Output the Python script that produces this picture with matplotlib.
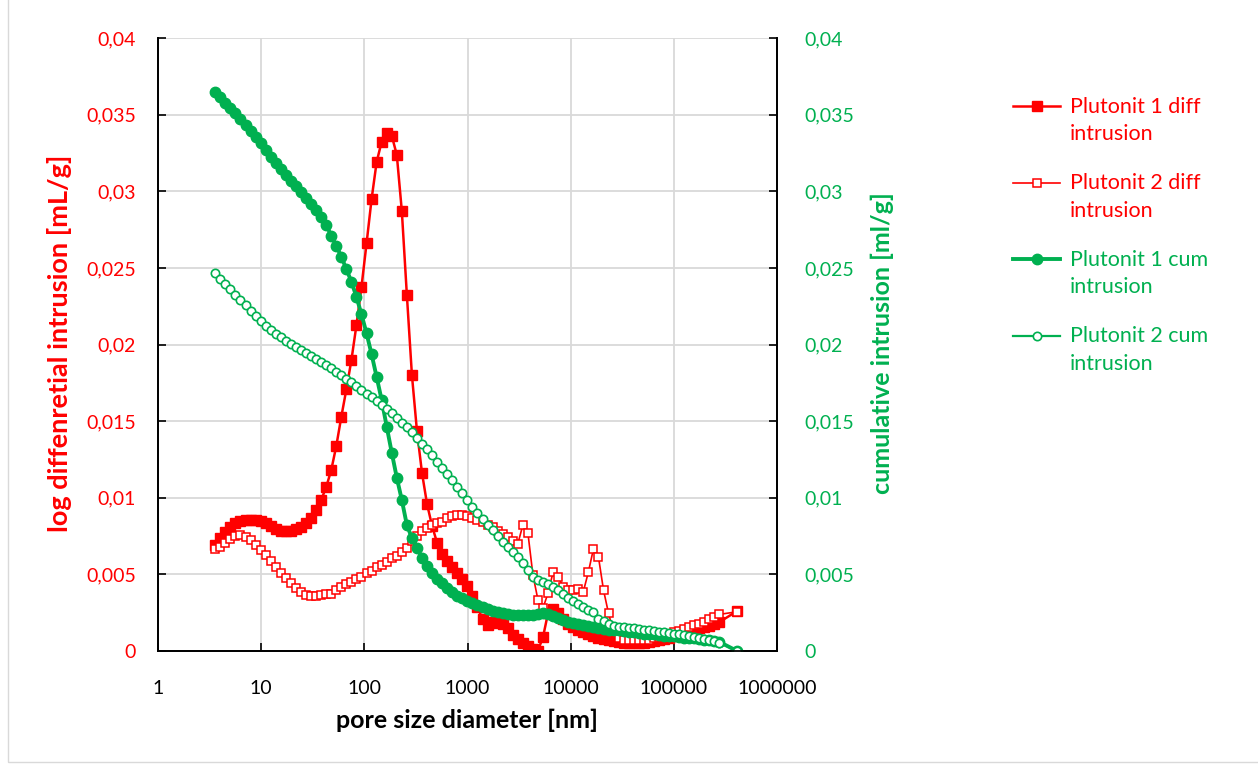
import matplotlib
matplotlib.use("Agg")
import matplotlib.pyplot as plt
from matplotlib.lines import Line2D
from matplotlib.patches import Rectangle

RED = "#FF0000"
GREEN = "#00B050"

# pore diameters (nm), shared by all four series
diameter_nm = [3.592, 4.020, 4.498, 5.033, 5.633, 6.304, 7.054, 7.895, 8.836, 9.888,
               11.07, 12.38, 13.86, 15.51, 17.36, 19.43, 21.74, 24.33, 27.23, 30.47,
               34.10, 38.16, 42.71, 47.79, 53.49, 59.86, 66.98, 74.96, 83.89, 93.87,
               105.1, 117.6, 131.6, 147.2, 164.8, 184.4, 206.4, 230.9, 258.4, 289.2,
               323.6, 362.2, 405.3, 453.6, 507.6, 568.1, 635.7, 711.4, 796.2, 891.0,
               997.2, 1116, 1249, 1398, 1564, 1751, 1959, 2193, 2454, 2746,
               3073, 3439, 3848, 4307, 4820, 5394, 6036, 6755, 7560, 8460,
               9467, 10595, 11857, 13269, 14849, 16618, 18597, 20812, 23290, 26063,
               29167, 32642, 36529, 40880, 45750, 51200, 57290, 64120, 71750, 80300,
               89860, 100600, 112500, 125900, 140900, 157800, 176500, 197600, 221100, 247400,
               276900, 410900]

p1_diff = [0.00692, 0.00737, 0.00777, 0.00809, 0.00835, 0.00848, 0.00855, 0.00855, 0.00855, 0.00848,
           0.00835, 0.00816, 0.00796, 0.00783, 0.00780, 0.00783, 0.00793, 0.00809, 0.00832, 0.00868,
           0.00920, 0.00985, 0.01070, 0.01181, 0.01338, 0.01529, 0.01708, 0.01899, 0.02127, 0.02377,
           0.02660, 0.02949, 0.03191, 0.03323, 0.03380, 0.03363, 0.03237, 0.02871, 0.02323, 0.01801,
           0.01436, 0.01162, 0.00959, 0.00816, 0.00705, 0.00633, 0.00587, 0.00548, 0.00509, 0.00470,
           0.00424, 0.00359, 0.00287, 0.00209, 0.00170, 0.00186, 0.00183, 0.00179, 0.00150, 0.00104,
           0.00078, 0.00052, 0.00033, 0.00016, 0.00003, 0.00091, 0.00248, 0.00274, 0.00248, 0.00209,
           0.00176, 0.00157, 0.00140, 0.00124, 0.00111, 0.00098, 0.00088, 0.00078, 0.00072, 0.00065,
           0.00059, 0.00055, 0.00052, 0.00052, 0.00052, 0.00055, 0.00059, 0.00065, 0.00072, 0.00078,
           0.00088, 0.00098, 0.00108, 0.00117, 0.00127, 0.00137, 0.00147, 0.00157, 0.00166, 0.00176,
           0.00189, 0.00261]

p2_diff = [0.00664, 0.00679, 0.00705, 0.00731, 0.00750, 0.00757, 0.00747, 0.00724, 0.00692, 0.00662,
           0.00626, 0.00587, 0.00545, 0.00509, 0.00476, 0.00444, 0.00411, 0.00382, 0.00365, 0.00359,
           0.00362, 0.00365, 0.00369, 0.00375, 0.00395, 0.00418, 0.00437, 0.00452, 0.00468, 0.00483,
           0.00506, 0.00525, 0.00545, 0.00561, 0.00581, 0.00604, 0.00623, 0.00649, 0.00675, 0.00718,
           0.00750, 0.00783, 0.00803, 0.00822, 0.00833, 0.00845, 0.00865, 0.00878, 0.00887, 0.00887,
           0.00881, 0.00866, 0.00855, 0.00842, 0.00825, 0.00809, 0.00786, 0.00763, 0.00744, 0.00721,
           0.00698, 0.00822, 0.00772, 0.00496, 0.00333, 0.00281, 0.00378, 0.00515, 0.00485, 0.00418,
           0.00398, 0.00398, 0.00405, 0.00388, 0.00515, 0.00666, 0.00613, 0.00398, 0.00245, 0.00124,
           0.00085, 0.00075, 0.00072, 0.00069, 0.00069, 0.00072, 0.00075, 0.00082, 0.00091, 0.00101,
           0.00111, 0.00121, 0.00131, 0.00144, 0.00157, 0.00170, 0.00179, 0.00192, 0.00206, 0.00222,
           0.00239, 0.00256]

p1_cum = [0.03650, 0.03615, 0.03579, 0.03543, 0.03509, 0.03471, 0.03432, 0.03393, 0.03356, 0.03315,
          0.03269, 0.03224, 0.03182, 0.03145, 0.03106, 0.03070, 0.03034, 0.02995, 0.02956, 0.02917,
          0.02878, 0.02832, 0.02780, 0.02711, 0.02643, 0.02573, 0.02491, 0.02410, 0.02310, 0.02196,
          0.02073, 0.01936, 0.01788, 0.01638, 0.01464, 0.01294, 0.01131, 0.00985, 0.00822, 0.00737,
          0.00672, 0.00607, 0.00555, 0.00509, 0.00473, 0.00444, 0.00411, 0.00385, 0.00362, 0.00343,
          0.00326, 0.00310, 0.00297, 0.00284, 0.00274, 0.00264, 0.00254, 0.00248, 0.00241, 0.00238,
          0.00235, 0.00235, 0.00235, 0.00238, 0.00241, 0.00245, 0.00241, 0.00228, 0.00215, 0.00202,
          0.00192, 0.00183, 0.00176, 0.00170, 0.00163, 0.00157, 0.00150, 0.00144, 0.00140, 0.00137,
          0.00134, 0.00131, 0.00127, 0.00124, 0.00117, 0.00114, 0.00111, 0.00108, 0.00104, 0.00101,
          0.00098, 0.00095, 0.00091, 0.00088, 0.00085, 0.00082, 0.00078, 0.00075, 0.00072, 0.00065,
          0.00059, 0.0]

p2_cum = [0.02465, 0.02427, 0.02393, 0.02360, 0.02323, 0.02290, 0.02256, 0.02221, 0.02186, 0.02155,
          0.02121, 0.02095, 0.02069, 0.02046, 0.02023, 0.02003, 0.01984, 0.01964, 0.01945, 0.01925,
          0.01905, 0.01886, 0.01866, 0.01847, 0.01821, 0.01798, 0.01778, 0.01755, 0.01732, 0.01706,
          0.01680, 0.01657, 0.01631, 0.01605, 0.01576, 0.01550, 0.01520, 0.01491, 0.01462, 0.01429,
          0.01390, 0.01351, 0.01316, 0.01279, 0.01235, 0.01194, 0.01158, 0.01113, 0.01070, 0.01031,
          0.00985, 0.00942, 0.00899, 0.00859, 0.00822, 0.00790, 0.00750, 0.00713, 0.00681, 0.00648,
          0.00611, 0.00572, 0.00529, 0.00485, 0.00463, 0.00452, 0.00440, 0.00418, 0.00398, 0.00375,
          0.00349, 0.00326, 0.00307, 0.00287, 0.00268, 0.00254, 0.00207, 0.00196, 0.00179, 0.00163,
          0.00159, 0.00155, 0.00152, 0.00148, 0.00144, 0.00140, 0.00137, 0.00132, 0.00127, 0.00122,
          0.00117, 0.00113, 0.00108, 0.00102, 0.00098, 0.00091, 0.00085, 0.00078, 0.00070, 0.00062,
          0.00054, 0.0]

x_ticks = [1, 10, 100, 1000, 10000, 100000, 1000000]
x_tick_labels = ["1", "10", "100", "1000", "10000", "100000", "1000000"]
y_ticks = [0, 0.005, 0.01, 0.015, 0.02, 0.025, 0.03, 0.035, 0.04]
y_tick_labels = ["0", "0,005", "0,01", "0,015", "0,02", "0,025", "0,03", "0,035", "0,04"]

series_labels = ["Plutonit 1 diff\nintrusion", "Plutonit 2 diff\nintrusion",
                 "Plutonit 1 cum\nintrusion", "Plutonit 2 cum\nintrusion"]

plt.rcParams["font.family"] = ["Lato", "DejaVu Sans"]
plt.rcParams["font.size"] = 14

styles = [
    dict(color=RED, lw=1.8, marker="s", ms=7, mfc=RED, mec=RED),
    dict(color=RED, lw=1.2, marker="s", ms=5.8, mfc="white", mec=RED, mew=1.1),
    dict(color=GREEN, lw=2.8, marker="o", ms=7.5, mfc=GREEN, mec=GREEN),
    dict(color=GREEN, lw=1.6, marker="o", ms=6, mfc="white", mec=GREEN, mew=1.2),
]

fig = plt.figure(figsize=(12.58, 7.64), dpi=100)
ax = fig.add_axes([158 / 1258, 1 - 651 / 764, 619 / 1258, 613 / 764])
ax2 = ax.twinx()

ax.plot(diameter_nm, p1_diff, **styles[0])
ax.plot(diameter_nm, p2_diff, **styles[1])
ax2.plot(diameter_nm, p1_cum, **styles[2])
ax2.plot(diameter_nm, p2_cum, **styles[3])

ax.set_xscale("log")
ax.set_xlim(1, 1e6)
ax.set_xticks(x_ticks)
ax.set_xticklabels(x_tick_labels)
ax.minorticks_off()
for a in (ax, ax2):
    a.set_ylim(0, 0.04)
    a.set_yticks(y_ticks)
    a.set_yticklabels(y_tick_labels)

ax.grid(True, color="#d9d9d9", lw=1.3)
ax.set_axisbelow(True)

for a in (ax, ax2):
    a.spines["top"].set_visible(False)
    for side in ("left", "right", "bottom"):
        a.spines[side].set_color("black")
        a.spines[side].set_linewidth(1.3)

ax.tick_params(axis="x", direction="in", length=6, width=1.2, pad=21, labelcolor="black")
ax.tick_params(axis="y", direction="in", length=6, width=1.2, pad=16, labelcolor=RED)
ax2.tick_params(axis="y", direction="in", length=6, width=1.2, pad=20, labelcolor=GREEN)

fig.text(467 / 1258, 1 - 720 / 764, "pore size diameter [nm]", ha="center", va="center",
         fontsize=18, fontweight="bold")
fig.text(60 / 1258, 1 - 343 / 764, "log diffenretial intrusion [mL/g]", ha="center", va="center",
         rotation=90, fontsize=19.5, fontweight="bold", color=RED)
fig.text(882 / 1258, 1 - 343 / 764, "cumulative intrusion [ml/g]", ha="center", va="center",
         rotation=90, fontsize=18, fontweight="bold", color=GREEN)

# legend entries placed beside the plot area
label_colors = [RED, RED, GREEN, GREEN]
for i, (label, st) in enumerate(zip(series_labels, styles)):
    y = 1 - (106 + 76.5 * i) / 764
    fig.add_artist(Line2D([1013 / 1258, 1060 / 1258], [y, y], transform=fig.transFigure,
                          **{k: v for k, v in st.items() if k != "marker"}, marker=None))
    fig.add_artist(Line2D([1037 / 1258], [y], transform=fig.transFigure, ls="none",
                          **{k: v for k, v in st.items() if k not in ("lw", "color")}))
    fig.text(1070 / 1258, 1 - (120.5 + 76.5 * i) / 764, label, ha="left", va="center",
             color=label_colors[i], fontsize=15.5, linespacing=1.45)

fig.patches.append(Rectangle((8 / 1258, 1 - 762 / 764), 2, 2, transform=fig.transFigure,
                             fill=False, edgecolor="#d9d9d9", lw=1))

fig.savefig("out.png", dpi=100)
